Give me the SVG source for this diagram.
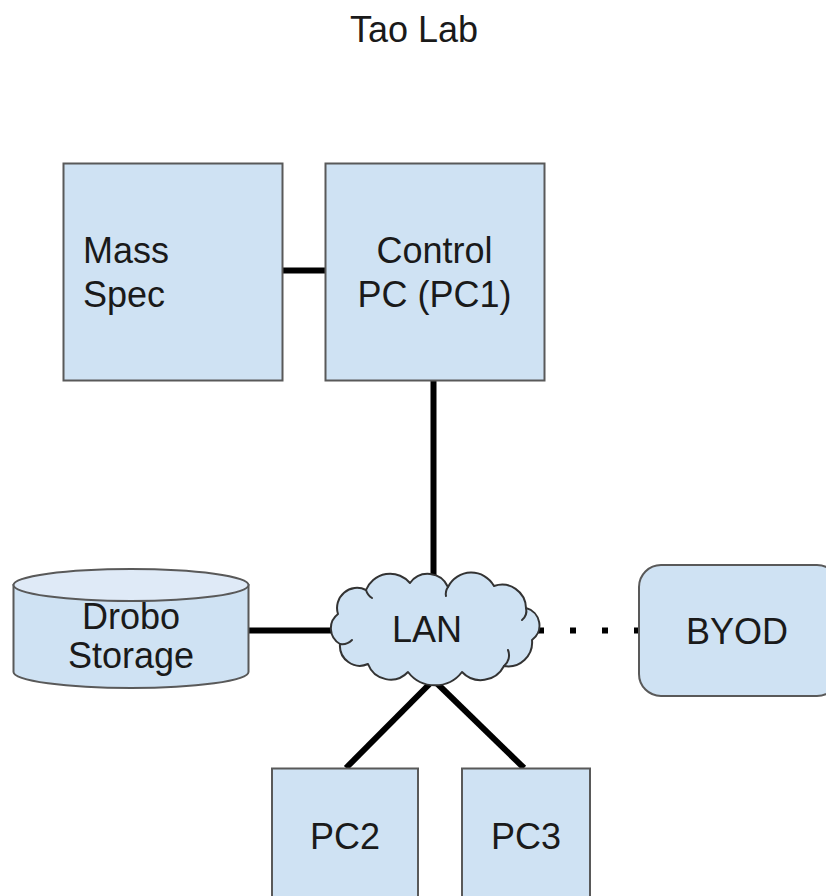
<svg xmlns="http://www.w3.org/2000/svg" width="826" height="896" viewBox="0 0 826 896">
  <style>
    .box { fill: #cfe2f3; stroke: #595959; stroke-width: 2; }
    .cap { fill: #dfeaf7; stroke: #595959; stroke-width: 2; }
    .cloud { fill: #cfe2f3; stroke: #333333; stroke-width: 2; stroke-linejoin: round; }
    .curl { fill: none; stroke: #333333; stroke-width: 2; stroke-linecap: round; }
    .label { font-family: "Liberation Sans", Arial, sans-serif; font-size: 36px; fill: #1a1a1a; }
    .mid { text-anchor: middle; }
    .wire { stroke: #000000; stroke-width: 6; fill: none; }
    .dots { stroke: #000000; stroke-width: 6; fill: none; stroke-dasharray: 6 26; }
  </style>

  <rect width="826" height="896" fill="#ffffff"/>

  <text class="label mid" x="414" y="42">Tao Lab</text>

  <!-- links between nodes -->
  <g id="connectors">
    <line class="wire" x1="282" y1="270.5" x2="326" y2="270.5"/>
    <line class="wire" x1="433.5" y1="380" x2="433.5" y2="600"/>
    <line class="wire" x1="247" y1="630.5" x2="340" y2="630.5"/>
    <line class="wire" x1="433.5" y1="680" x2="346" y2="768"/>
    <line class="wire" x1="433.5" y1="680" x2="524" y2="768"/>
    <line class="dots" x1="538" y1="630.5" x2="640" y2="630.5"/>
  </g>

  <g id="mass-spec">
    <rect class="box" x="63.5" y="163.5" width="219" height="217"/>
    <text class="label" x="83" y="263">Mass</text>
    <text class="label" x="83" y="307">Spec</text>
  </g>

  <g id="control-pc">
    <rect class="box" x="325.5" y="163.5" width="219" height="217"/>
    <text class="label mid" x="434.5" y="263">Control</text>
    <text class="label mid" x="434.5" y="307">PC (PC1)</text>
  </g>

  <g id="drobo-storage">
    <path class="box" d="M13.5 585 L13.5 672 A117.5 16 0 0 0 248.5 672 L248.5 585 Z"/>
    <ellipse class="cap" cx="131" cy="585" rx="117.5" ry="16"/>
    <text class="label mid" x="131" y="629">Drobo</text>
    <text class="label mid" x="131" y="668">Storage</text>
  </g>

  <g id="lan">
    <path class="cloud" d="M338 614 A20 20 0 0 1 366 590 A26 26 0 0 1 410 583 A22 22 0 0 1 448 587 A26 26 0 0 1 494 586 A24 24 0 0 1 526 608 A18 18 0 0 1 532 640 A24 24 0 0 1 504 666 A26 26 0 0 1 462 672 A34 34 0 0 1 408 672 A24 24 0 0 1 368 664 A20 20 0 0 1 340 644 A18 18 0 0 1 338 614 Z"/>
    <path class="curl" d="M340 644 A14 14 0 0 0 352 640"/>
    <path class="curl" d="M504 666 A14 14 0 0 0 508 650"/>
    <path class="curl" d="M526 608 A12 12 0 0 1 522 620"/>
    <path class="curl" d="M366 590 A14 14 0 0 0 372 598"/>
    <path class="curl" d="M448 587 A12 12 0 0 0 446 596"/>
    <text class="label mid" x="427" y="642">LAN</text>
  </g>

  <g id="byod">
    <rect class="box" x="639" y="565" width="200" height="131" rx="22" ry="22"/>
    <text class="label mid" x="737" y="644">BYOD</text>
  </g>

  <g id="pc2">
    <rect class="box" x="272" y="768.5" width="146" height="140"/>
    <text class="label mid" x="345" y="849">PC2</text>
  </g>

  <g id="pc3">
    <rect class="box" x="462" y="768.5" width="128" height="140"/>
    <text class="label mid" x="526" y="849">PC3</text>
  </g>
</svg>
